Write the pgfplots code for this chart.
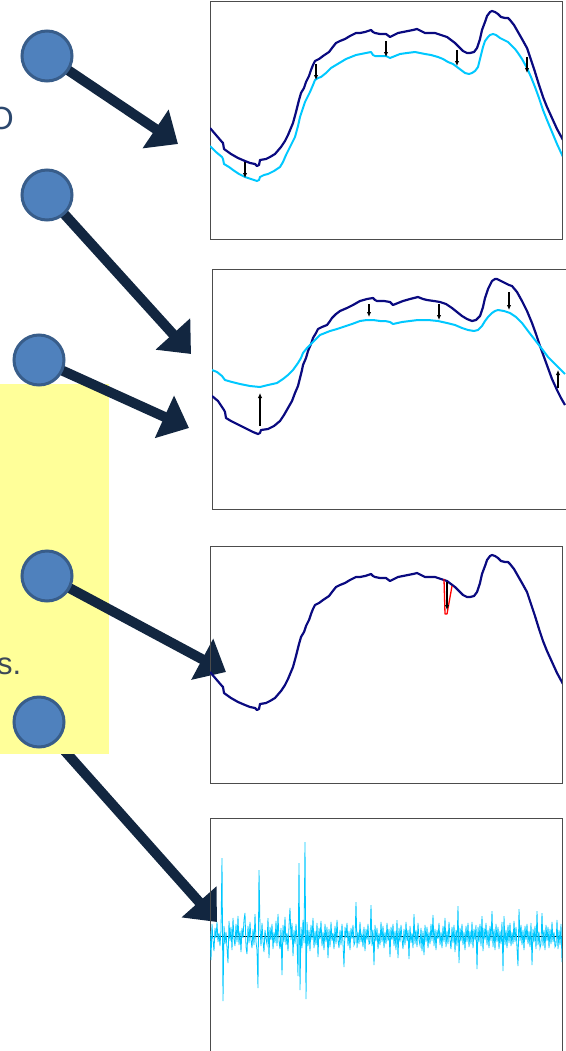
\documentclass[border=0pt]{standalone}
\usepackage{pgfplots}
\pgfplotsset{compat=1.18}
\usepackage{pgfplotstable}
\usepackage{fontspec}
\setmainfont{Liberation Sans}
\usetikzlibrary{arrows.meta}
\definecolor{navyc}{RGB}{10,10,128}
\definecolor{cyanc}{RGB}{0,200,255}
\definecolor{arrc}{RGB}{18,38,64}
\definecolor{circf}{RGB}{79,129,189}
\definecolor{circd}{RGB}{56,93,138}
\definecolor{yel}{RGB}{255,255,153}
\definecolor{txta}{RGB}{44,72,110}
\definecolor{txtb}{RGB}{60,72,88}

\pgfplotstableread{
u v
0 126
6 133
12 140
13 141
14 147
21 152
28 156
35 159
40 161
45 162
47 164
49 163
50 158
56 157
60 155
65 152
71 145
75 139
78 133
83 121
86 110
89 98
91 91
94 86
96 80
99 74
101 68
103 63
105 59
109 57
113 54
116 52
119 50
122 46
126 41
130 39
135 37
140 34
146 31
150 31
155 30
158 29
161 28
163 30
165 31
170 32
176 32
180 35
184 33
188 31
193 30
198 29
203 28
207 27
211 29
215 31
220 31
225 31
231 33
237 35
241 38
245 41
249 45
253 49
257 51
260 51
264 50
267 46
270 37
272 28
275 20
277 14
280 10
282 9
285 10
288 12
291 15
295 16
298 16
300 18
304 23
308 30
312 37
317 46
321 58
325 70
329 83
333 95
337 105
342 116
347 127
353 138
}\navyA

\pgfplotstableread{
u v
0 144
6 150
12 155
13 157
14 162
19 165
23 168
29 172
35 175
41 177
47 179
49 178
50 175
54 173
58 172
64 169
70 165
73 160
76 153
80 145
85 135
88 124
90 115
93 106
95 100
98 94
100 90
103 83
105 78
108 76
111 75
116 71
121 66
126 63
131 60
136 57
141 55
146 53
151 52
156 51
161 50
163 53
165 54
170 54
176 54
180 56
185 54
190 52
197 51
205 50
210 51
215 52
221 53
228 55
233 57
238 60
243 62
247 65
251 68
255 71
259 72
262 71
265 69
268 65
270 57
273 45
275 39
278 35
280 33
283 32
286 33
290 36
294 38
298 40
301 43
305 47
308 51
312 57
317 66
321 75
325 85
329 96
333 108
337 118
342 130
347 142
353 155
}\cyanA

\pgfplotstableread{
u v
0 127
6 132
12 141
13 143
14 149
19 152
23 154
29 157
35 160
41 163
46 165
48 164
49 161
56 160
62 157
68 152
72 146
76 139
80 132
83 124
86 117
88 109
90 101
91 96
94 89
96 82
99 75
101 69
104 64
106 60
110 58
115 56
118 52
120 49
124 45
128 42
135 39
141 36
148 32
155 30
161 29
163 31
165 32
172 32
178 33
181 36
186 34
191 32
198 30
206 28
211 30
215 31
222 32
228 33
234 35
240 39
245 43
250 47
255 50
260 52
264 51
268 47
271 38
273 29
276 20
280 12
283 10
285 10
289 12
293 14
297 16
300 17
305 23
310 32
315 42
320 54
324 65
328 77
332 88
336 99
340 110
345 121
349 129
353 136
}\navyB

\pgfplotstableread{
u v
0 101
5 103
10 107
13 111
20 113
28 115
38 117
48 118
56 116
65 114
71 110
76 106
81 101
86 94
89 89
91 84
95 79
98 76
103 71
108 66
113 64
118 62
125 60
131 58
140 55
148 52
155 51
161 51
168 52
173 52
178 53
181 55
190 53
198 52
206 51
216 51
226 52
235 54
243 56
250 59
256 61
262 62
266 61
270 57
273 52
276 48
280 44
283 42
286 41
292 42
298 44
304 48
310 54
316 62
323 71
330 80
336 88
343 95
348 100
353 105
}\cyanB

\pgfplotsset{panel/.style={scale only axis, anchor=north west, width=352pt, xmin=0, xmax=352,
  y dir=reverse, xtick=\empty, ytick=\empty, clip=true,
  axis line style={draw=black!70, line width=1pt}}}

\begin{document}
\begin{tikzpicture}
\useasboundingbox (0pt,0pt) rectangle (565pt,-1051pt);
\begin{scope}[x=1pt,y=-1pt]
  % arrow 5 (partly covered by the yellow box)
  \draw[arrc, line width=10pt, -{Triangle[width=45pt,length=27pt]}] (39,722) -- (217,922);
  \fill[yel] (-2,384) rectangle (109,754);
  \draw[arrc, line width=10pt, -{Triangle[width=45pt,length=27pt]}] (47,56) -- (178,144);
  \draw[arrc, line width=10pt, -{Triangle[width=45pt,length=27pt]}] (47,195) -- (191,354);
  \draw[arrc, line width=10pt, -{Triangle[width=45pt,length=27pt]}] (39,360) -- (189,428);
  \draw[arrc, line width=10pt, -{Triangle[width=45pt,length=27pt]}] (47,576) -- (226,672);
  \foreach \cx/\cy in {47/56, 47/195, 39/360, 47/576, 39/722}
    \draw[fill=circf, draw=circd, line width=3pt] (\cx,\cy) circle[radius=25pt];
  \node[anchor=base east, inner sep=0pt, text=txta, font=\fontsize{32}{32}\selectfont] at (14,130) {O};
  \node[anchor=base west, inner sep=0pt, text=txtb, font=\fontsize{31}{31}\selectfont] at (-3,674) {s.};
\end{scope}

% panel 1
\begin{axis}[panel, at={(210pt,-2pt)}, height=237pt, ymin=0, ymax=237]
  \addplot[navyc, line width=2.2pt, line join=round] table[x=u, y=v] {\navyA};
  \addplot[cyanc, line width=2pt, line join=round] table[x=u, y=v] {\cyanA};
  \addplot[black, line width=1.1pt, quiver={u=\thisrow{du}, v=\thisrow{dv}}, -{Latex[length=5pt,width=4.5pt]}]
    table {
x y du dv
35 160 0 16
106 62 0 16
176 39 0 16
247 48 0 16
317 55 0 16
};
\end{axis}

% panel 2
\begin{axis}[panel, at={(212pt,-269pt)}, width=354pt, xmax=354, height=240pt, ymin=0, ymax=240]
  \addplot[navyc, line width=2.2pt, line join=round] table[x=u, y=v] {\navyB};
  \addplot[cyanc, line width=2pt, line join=round] table[x=u, y=v] {\cyanB};
  \addplot[black, line width=1.1pt, quiver={u=\thisrow{du}, v=\thisrow{dv}}, -{Latex[length=5pt,width=4.5pt]}]
    table {
x y du dv
48 157 0 -33
157 35 0 13
227 35 0 16
297 23 0 18
346 119 0 -18
};
\end{axis}

% panel 3
\begin{axis}[panel, at={(210pt,-546pt)}, height=237pt, ymin=0, ymax=237]
  \addplot[navyc, line width=2.2pt, line join=round] table[x=u, y=v] {\navyA};
  \addplot[red, line width=1.3pt, line join=round] coordinates {(234,33) (235,68) (237,68) (242,40)};
  \addplot[black, line width=1.1pt, quiver={u=\thisrow{du}, v=\thisrow{dv}}, -{Latex[length=5pt,width=4.5pt]}]
    table {
x y du dv
237 36 0 28
};
\end{axis}

% panel 4
\begin{axis}[panel, at={(210pt,-818pt)}, height=238pt, ymin=-118, ymax=120]
  \addplot[black, line width=0.6pt] coordinates {(0,0) (352,0)};
  \addplot[cyanc, line width=0.8pt] coordinates {
(0,-5)(1,24)(2,-12)(3,4)(4,15)(5,-8)(6,2)(7,-14)(8,6)(9,-3)(10,10)(11,-6)(12,-78)(13,65)(14,-10)(15,8)(16,-4)(17,12)(18,27)(19,-15)
(20,5)(21,-9)(22,14)(23,-18)(24,3)(25,10)(26,-12)(27,6)(28,-20)(29,9)(30,-5)(31,16)(32,-8)(33,2)(34,-16)(35,-23)(36,11)(37,18)(38,-10)(39,7)
(40,-14)(41,4)(42,12)(43,-7)(44,9)(45,-22)(46,6)(47,14)(48,52)(49,-66)(50,-8)(51,10)(52,-13)(53,5)(54,16)(55,-6)(56,3)(57,8)(58,-18)(59,22)
(60,-9)(61,4)(62,-12)(63,13)(64,-4)(65,7)(66,-15)(67,10)(68,-22)(69,5)(70,13)(71,-8)(72,39)(73,-11)(74,6)(75,-19)(76,9)(77,-3)(78,15)(79,-10)
(80,-28)(81,4)(82,-13)(83,20)(84,-6)(85,8)(86,-12)(87,5)(88,40)(89,-73)(90,54)(91,-9)(92,12)(93,-16)(94,7)(95,-94)(96,63)(97,-14)(98,10)(99,-6)
(100,15)(101,-11)(102,4)(103,-18)(104,12)(105,-5)(106,9)(107,-13)(108,21)(109,-8)(110,3)(111,-15)(112,10)(113,-4)(114,14)(115,-12)(116,6)(117,-9)(118,22)(119,-7)
(120,11)(121,-14)(122,5)(123,-3)(124,13)(125,-10)(126,8)(127,-16)(128,4)(129,12)(130,-6)(131,9)(132,-12)(133,7)(134,31)(135,-9)(136,2)(137,-13)(138,10)(139,-5)
(140,14)(141,-8)(142,3)(143,-11)(144,9)(145,6)(146,-34)(147,12)(148,-4)(149,8)(150,-14)(151,6)(152,-2)(153,11)(154,-9)(155,15)(156,-7)(157,4)(158,-12)(159,8)
(160,7)(161,-31)(162,10)(163,-6)(164,29)(165,-11)(166,5)(167,-8)(168,13)(169,-3)(170,9)(171,-14)(172,6)(173,-10)(174,12)(175,-4)(176,8)(177,-13)(178,5)(179,-7)
(180,21)(181,-9)(182,4)(183,-12)(184,10)(185,-5)(186,14)(187,-16)(188,22)(189,-8)(190,6)(191,-11)(192,3)(193,13)(194,-7)(195,9)(196,-14)(197,5)(198,-6)(199,23)
(200,-10)(201,7)(202,-3)(203,12)(204,-22)(205,8)(206,-6)(207,11)(208,-13)(209,4)(210,9)(211,-8)(212,15)(213,-5)(214,19)(215,-11)(216,6)(217,-9)(218,12)(219,-4)
(220,8)(221,-12)(222,5)(223,-21)(224,10)(225,-7)(226,14)(227,-6)(228,3)(229,-13)(230,9)(231,-4)(232,12)(233,-10)(234,6)(235,-18)(236,11)(237,-5)(238,8)(239,-14)
(240,4)(241,13)(242,-9)(243,7)(244,-11)(245,16)(246,-6)(247,10)(248,-30)(249,27)(250,-8)(251,5)(252,-12)(253,9)(254,-4)(255,14)(256,-10)(257,6)(258,-13)(259,11)
(260,-5)(261,8)(262,-14)(263,12)(264,-7)(265,4)(266,-11)(267,33)(268,-9)(269,6)(270,-12)(271,10)(272,-20)(273,15)(274,-8)(275,4)(276,-13)(277,9)(278,-6)(279,12)
(280,-10)(281,5)(282,-25)(283,11)(284,-7)(285,14)(286,-12)(287,6)(288,-9)(289,13)(290,-5)(291,8)(292,-14)(293,35)(294,-20)(295,9)(296,-6)(297,12)(298,-11)(299,7)
(300,-13)(301,10)(302,-4)(303,8)(304,-15)(305,6)(306,-9)(307,12)(308,30)(309,-27)(310,5)(311,-11)(312,9)(313,-6)(314,14)(315,-10)(316,4)(317,-12)(318,8)(319,-5)
(320,11)(321,-13)(322,29)(323,-7)(324,6)(325,-10)(326,13)(327,-25)(328,9)(329,-4)(330,12)(331,8)(332,-23)(333,10)(334,-6)(335,14)(336,-11)(337,5)(338,-9)(339,12)
(340,-7)(341,8)(342,-14)(343,6)(344,-4)(345,11)(346,9)(347,-16)(348,13)(349,-6)(350,9)(351,-12)(352,26)
};
\end{axis}
\end{tikzpicture}
\end{document}
